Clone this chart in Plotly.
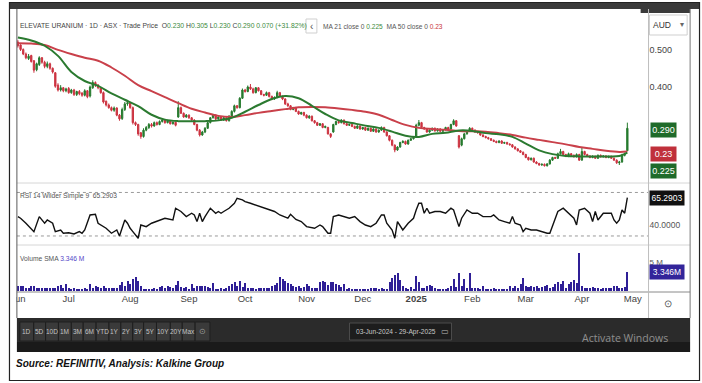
import plotly.graph_objects as go

W, H = 702, 383

# ---------------- data ----------------
month_idx = [0, 19, 42, 64, 85, 108, 129, 149, 170, 190, 211, 230]
month_lbl = ["Jun", "Jul", "Aug", "Sep", "Oct", "Nov", "Dec", "<b>2025</b>", "Feb", "Mar", "Apr", "May"]

opens = [
    0.520, 0.512, 0.500, 0.488, 0.476, 0.484, 0.470, 0.446, 0.460, 0.478,
    0.466, 0.455, 0.462, 0.450, 0.438, 0.405, 0.392, 0.398, 0.390, 0.396,
    0.385, 0.392, 0.380, 0.388, 0.384, 0.378, 0.390, 0.376, 0.398, 0.412,
    0.405, 0.398, 0.385, 0.362, 0.352, 0.345, 0.338, 0.344, 0.325, 0.316,
    0.340, 0.355, 0.358, 0.345, 0.305, 0.300, 0.278, 0.268, 0.285, 0.292,
    0.300, 0.296, 0.305, 0.300, 0.308, 0.312, 0.305, 0.310, 0.302, 0.306,
    0.320, 0.345, 0.330, 0.320, 0.325, 0.318, 0.312, 0.300, 0.285, 0.272,
    0.280, 0.290, 0.305, 0.318, 0.325, 0.315, 0.320, 0.312, 0.318, 0.310,
    0.322, 0.335, 0.350, 0.345, 0.370, 0.392, 0.388, 0.400, 0.395, 0.385,
    0.398, 0.390, 0.380, 0.378, 0.385, 0.375, 0.368, 0.372, 0.385, 0.375,
    0.368, 0.355, 0.350, 0.340, 0.345, 0.335, 0.328, 0.332, 0.325, 0.318,
    0.322, 0.310, 0.305, 0.298, 0.302, 0.292, 0.292, 0.275, 0.280, 0.300,
    0.308, 0.305, 0.312, 0.302, 0.298, 0.300, 0.295, 0.290, 0.296, 0.288,
    0.292, 0.285, 0.290, 0.282, 0.288, 0.280, 0.285, 0.292, 0.280, 0.270,
    0.258, 0.245, 0.232, 0.240, 0.252, 0.255, 0.248, 0.258, 0.262, 0.268,
    0.298, 0.305, 0.292, 0.288, 0.280, 0.285, 0.290, 0.283, 0.288, 0.282,
    0.286, 0.292, 0.288, 0.300, 0.310, 0.270, 0.245, 0.262, 0.275, 0.282,
    0.290, 0.285, 0.280, 0.278, 0.272, 0.268, 0.265, 0.262, 0.258, 0.255,
    0.252, 0.256, 0.250, 0.252, 0.248, 0.246, 0.240, 0.235, 0.230, 0.226,
    0.220, 0.212, 0.206, 0.210, 0.200, 0.196, 0.192, 0.194, 0.190, 0.195,
    0.205, 0.212, 0.210, 0.222, 0.228, 0.220, 0.215, 0.222, 0.218, 0.214,
    0.220, 0.205, 0.228, 0.220, 0.216, 0.212, 0.215, 0.210, 0.218, 0.214,
    0.216, 0.212, 0.215, 0.210, 0.205, 0.198, 0.200, 0.218, 0.230,
]
highs = [
    0.525, 0.514, 0.503, 0.492, 0.488, 0.486, 0.472, 0.465, 0.482, 0.480,
    0.470, 0.468, 0.465, 0.452, 0.440, 0.410, 0.405, 0.400, 0.398, 0.400,
    0.395, 0.395, 0.390, 0.392, 0.386, 0.394, 0.392, 0.404, 0.418, 0.415,
    0.408, 0.400, 0.388, 0.364, 0.356, 0.348, 0.348, 0.346, 0.328, 0.345,
    0.360, 0.362, 0.360, 0.348, 0.308, 0.302, 0.280, 0.290, 0.296, 0.304,
    0.304, 0.308, 0.308, 0.311, 0.316, 0.314, 0.313, 0.312, 0.308, 0.308,
    0.362, 0.348, 0.332, 0.328, 0.327, 0.320, 0.314, 0.302, 0.288, 0.283,
    0.293, 0.307, 0.320, 0.328, 0.327, 0.322, 0.322, 0.320, 0.320, 0.325,
    0.338, 0.353, 0.352, 0.373, 0.396, 0.395, 0.404, 0.408, 0.398, 0.400,
    0.400, 0.392, 0.382, 0.388, 0.387, 0.377, 0.375, 0.390, 0.387, 0.377,
    0.370, 0.358, 0.352, 0.347, 0.347, 0.337, 0.334, 0.334, 0.327, 0.325,
    0.324, 0.312, 0.307, 0.304, 0.304, 0.297, 0.294, 0.277, 0.302, 0.310,
    0.310, 0.314, 0.313, 0.304, 0.302, 0.302, 0.297, 0.298, 0.298, 0.294,
    0.294, 0.292, 0.292, 0.290, 0.290, 0.287, 0.295, 0.294, 0.282, 0.272,
    0.260, 0.247, 0.242, 0.254, 0.258, 0.257, 0.260, 0.264, 0.267, 0.302,
    0.312, 0.307, 0.294, 0.290, 0.287, 0.292, 0.292, 0.290, 0.290, 0.288,
    0.294, 0.294, 0.302, 0.314, 0.312, 0.272, 0.265, 0.278, 0.285, 0.293,
    0.292, 0.287, 0.282, 0.280, 0.274, 0.270, 0.267, 0.264, 0.260, 0.257,
    0.258, 0.258, 0.254, 0.254, 0.250, 0.248, 0.242, 0.237, 0.232, 0.228,
    0.222, 0.214, 0.212, 0.212, 0.202, 0.198, 0.196, 0.196, 0.197, 0.208,
    0.214, 0.214, 0.225, 0.235, 0.230, 0.222, 0.225, 0.224, 0.220, 0.223,
    0.222, 0.240, 0.230, 0.222, 0.218, 0.218, 0.217, 0.220, 0.220, 0.218,
    0.218, 0.217, 0.217, 0.212, 0.207, 0.203, 0.222, 0.225, 0.305,
]
lows = [
    0.505, 0.496, 0.485, 0.474, 0.472, 0.465, 0.438, 0.442, 0.456, 0.462,
    0.450, 0.450, 0.446, 0.436, 0.398, 0.388, 0.388, 0.386, 0.386, 0.382,
    0.382, 0.376, 0.376, 0.378, 0.374, 0.375, 0.370, 0.372, 0.395, 0.400,
    0.394, 0.382, 0.356, 0.348, 0.342, 0.335, 0.334, 0.322, 0.310, 0.312,
    0.336, 0.350, 0.342, 0.300, 0.296, 0.270, 0.262, 0.265, 0.282, 0.288,
    0.292, 0.294, 0.297, 0.298, 0.305, 0.302, 0.303, 0.300, 0.300, 0.295,
    0.318, 0.328, 0.318, 0.318, 0.315, 0.310, 0.298, 0.282, 0.268, 0.270,
    0.277, 0.288, 0.303, 0.316, 0.312, 0.313, 0.310, 0.310, 0.308, 0.308,
    0.320, 0.332, 0.342, 0.343, 0.368, 0.385, 0.386, 0.392, 0.382, 0.383,
    0.388, 0.378, 0.375, 0.376, 0.372, 0.365, 0.366, 0.370, 0.373, 0.365,
    0.352, 0.347, 0.338, 0.338, 0.333, 0.326, 0.326, 0.322, 0.316, 0.315,
    0.308, 0.302, 0.296, 0.296, 0.290, 0.290, 0.273, 0.264, 0.278, 0.298,
    0.302, 0.303, 0.300, 0.296, 0.296, 0.293, 0.288, 0.288, 0.286, 0.286,
    0.283, 0.283, 0.280, 0.280, 0.278, 0.278, 0.283, 0.278, 0.268, 0.255,
    0.242, 0.226, 0.230, 0.238, 0.250, 0.246, 0.246, 0.256, 0.260, 0.266,
    0.295, 0.290, 0.286, 0.278, 0.278, 0.283, 0.281, 0.281, 0.280, 0.280,
    0.284, 0.286, 0.286, 0.298, 0.294, 0.236, 0.242, 0.260, 0.273, 0.280,
    0.283, 0.278, 0.276, 0.270, 0.266, 0.263, 0.260, 0.256, 0.253, 0.250,
    0.250, 0.248, 0.248, 0.246, 0.244, 0.238, 0.233, 0.228, 0.224, 0.218,
    0.210, 0.204, 0.204, 0.198, 0.194, 0.190, 0.190, 0.188, 0.188, 0.193,
    0.203, 0.208, 0.208, 0.220, 0.218, 0.213, 0.213, 0.216, 0.212, 0.212,
    0.203, 0.204, 0.218, 0.214, 0.210, 0.210, 0.208, 0.208, 0.212, 0.212,
    0.210, 0.210, 0.208, 0.203, 0.195, 0.192, 0.198, 0.215, 0.230,
]
closes = [
    0.510, 0.500, 0.488, 0.478, 0.482, 0.468, 0.445, 0.462, 0.478, 0.466,
    0.455, 0.462, 0.450, 0.440, 0.402, 0.392, 0.398, 0.390, 0.395, 0.385,
    0.392, 0.380, 0.388, 0.382, 0.378, 0.390, 0.374, 0.400, 0.412, 0.405,
    0.398, 0.385, 0.360, 0.352, 0.345, 0.338, 0.344, 0.325, 0.315, 0.340,
    0.355, 0.358, 0.345, 0.305, 0.300, 0.275, 0.268, 0.285, 0.292, 0.300,
    0.296, 0.305, 0.300, 0.308, 0.312, 0.305, 0.310, 0.302, 0.306, 0.298,
    0.345, 0.330, 0.320, 0.325, 0.318, 0.312, 0.300, 0.285, 0.272, 0.280,
    0.290, 0.305, 0.318, 0.325, 0.315, 0.320, 0.312, 0.318, 0.310, 0.322,
    0.335, 0.350, 0.345, 0.370, 0.392, 0.388, 0.400, 0.395, 0.385, 0.398,
    0.390, 0.380, 0.378, 0.385, 0.375, 0.368, 0.372, 0.385, 0.375, 0.368,
    0.355, 0.350, 0.340, 0.345, 0.335, 0.328, 0.332, 0.325, 0.318, 0.322,
    0.310, 0.305, 0.298, 0.302, 0.292, 0.295, 0.275, 0.268, 0.300, 0.308,
    0.305, 0.312, 0.302, 0.298, 0.300, 0.295, 0.290, 0.296, 0.288, 0.292,
    0.285, 0.290, 0.282, 0.288, 0.280, 0.285, 0.292, 0.280, 0.270, 0.258,
    0.245, 0.232, 0.240, 0.252, 0.255, 0.248, 0.258, 0.262, 0.265, 0.298,
    0.305, 0.292, 0.288, 0.280, 0.285, 0.290, 0.283, 0.288, 0.282, 0.286,
    0.292, 0.288, 0.300, 0.310, 0.296, 0.240, 0.262, 0.275, 0.282, 0.290,
    0.285, 0.280, 0.278, 0.272, 0.268, 0.265, 0.262, 0.258, 0.255, 0.252,
    0.256, 0.250, 0.252, 0.248, 0.246, 0.240, 0.235, 0.230, 0.226, 0.220,
    0.212, 0.206, 0.210, 0.200, 0.196, 0.192, 0.194, 0.190, 0.195, 0.205,
    0.212, 0.210, 0.222, 0.228, 0.220, 0.215, 0.222, 0.218, 0.214, 0.220,
    0.205, 0.228, 0.220, 0.216, 0.212, 0.215, 0.210, 0.218, 0.214, 0.216,
    0.212, 0.215, 0.210, 0.205, 0.198, 0.200, 0.218, 0.220, 0.290,
]
volume_m = [
    0.9, 0.8, 0.9, 0.5, 0.5, 0.8, 0.9, 0.5, 0.6, 0.5,
    0.6, 0.5, 0.6, 0.5, 0.6, 0.9, 1.0, 0.6, 1.2, 0.5,
    0.4, 0.5, 0.3, 0.4, 0.3, 0.5, 0.4, 1.2, 0.6, 0.9,
    0.7, 0.6, 0.8, 0.5, 0.6, 0.5, 0.6, 0.5, 1.0, 1.5,
    0.9, 1.8, 1.3, 2.1, 2.4, 1.7, 0.9, 0.4, 0.3, 0.4,
    0.3, 0.5, 0.4, 0.7, 0.8, 0.6, 0.8, 0.7, 0.5, 1.0,
    1.8, 0.7, 0.5, 0.7, 0.4, 1.2, 0.5, 0.8, 0.9, 0.8,
    0.9, 0.7, 0.6, 1.4, 0.4, 0.3, 0.5, 0.4, 0.5, 0.9,
    1.2, 1.5, 0.9, 1.7, 0.7, 1.4, 0.5, 0.6, 0.5, 0.4,
    0.6, 0.5, 0.5, 0.6, 0.6, 0.8, 1.0, 1.4, 2.5, 2.1,
    1.8, 1.4, 1.2, 0.9, 0.7, 0.8, 0.6, 0.7, 1.2, 0.8,
    0.6, 0.5, 0.6, 1.5, 1.8, 1.5, 1.0, 1.5, 1.5, 1.2,
    1.1, 0.7, 1.2, 0.4, 0.5, 0.4, 0.3, 0.3, 0.4, 0.3,
    0.4, 0.3, 0.5, 0.6, 0.6, 0.4, 0.6, 0.3, 0.3, 1.5,
    2.3, 2.8, 3.2, 1.9, 0.8, 0.5, 0.4, 0.7, 0.3, 2.6,
    1.6, 0.6, 0.5, 0.8, 1.0, 0.9, 0.5, 0.4, 0.3, 0.4,
    0.4, 0.6, 0.8, 2.1, 0.7, 3.1, 0.8, 2.1, 0.6, 3.1,
    0.6, 0.6, 0.6, 0.3, 0.9, 0.4, 0.3, 0.4, 0.5, 0.4,
    0.3, 0.4, 0.4, 0.3, 0.8, 0.6, 0.9, 0.6, 1.3, 2.3,
    0.9, 0.7, 0.8, 0.7, 0.8, 0.6, 0.7, 0.8, 1.0, 0.6,
    0.7, 1.2, 1.6, 1.2, 1.7, 0.6, 1.2, 1.6, 1.9, 1.4,
    6.7, 0.9, 0.5, 0.5, 0.6, 0.7, 0.5, 0.6, 0.4, 0.5,
    0.6, 0.5, 0.6, 0.8, 0.9, 0.5, 0.5, 0.7, 3.346,
]

ma_idx = [0, 5, 10, 15, 20, 25, 30, 35, 40, 45, 50, 55, 60, 65, 70, 75, 80, 85, 90, 95,
          100, 105, 110, 115, 120, 125, 130, 135, 140, 145, 150, 155, 160, 165, 170, 175,
          180, 185, 190, 195, 200, 205, 210, 215, 220, 225, 228]
ma21 = [0.532, 0.524, 0.510, 0.483, 0.440, 0.416, 0.403, 0.383, 0.366, 0.349, 0.326, 0.313,
        0.309, 0.309, 0.309, 0.311, 0.318, 0.334, 0.352, 0.368, 0.376, 0.370, 0.350, 0.328,
        0.311, 0.304, 0.297, 0.291, 0.281, 0.270, 0.267, 0.275, 0.278, 0.284, 0.283, 0.277,
        0.274, 0.267, 0.249, 0.231, 0.221, 0.216, 0.215, 0.215, 0.215, 0.216, 0.225]
ma50 = [0.517, 0.516, 0.512, 0.499, 0.488, 0.478, 0.470, 0.452, 0.430, 0.405, 0.389, 0.373,
        0.357, 0.342, 0.332, 0.323, 0.320, 0.325, 0.331, 0.336, 0.341, 0.346, 0.347, 0.346,
        0.343, 0.339, 0.334, 0.326, 0.312, 0.299, 0.291, 0.288, 0.286, 0.283, 0.282, 0.281,
        0.277, 0.272, 0.265, 0.259, 0.253, 0.247, 0.240, 0.235, 0.230, 0.227, 0.228]

rsi_idx = [0, 1, 3, 6, 8, 10, 11, 13, 14, 16, 17, 19, 21, 23, 24, 25, 27, 29, 30, 33, 35, 37, 38,
           40, 41, 42, 43, 45, 46, 48, 50, 53, 55, 58, 59, 61, 63, 65, 66, 67, 68, 69, 70, 72, 74,
           75, 76, 77, 79, 81, 82, 84, 85, 87, 89, 91, 93, 96, 98, 101, 102, 104, 106, 108, 111,
           113, 114, 116, 117, 118, 120, 122, 124, 126, 128, 130, 132, 134, 136, 137, 138, 140,
           141, 142, 144, 146, 148, 149, 150, 151, 152, 153, 154, 156, 158, 160, 162, 163, 165,
           166, 168, 170, 172, 174, 175, 177, 178, 180, 182, 184, 185, 186, 188, 189, 190, 192,
           194, 196, 198, 199, 200, 202, 204, 206, 208, 209, 210, 212, 214, 215, 216, 217, 219,
           222, 223, 224, 225, 226, 227, 228]
rsi_val = [47.8, 46.3, 41.7, 34.0, 47.8, 41.7, 44.7, 41.7, 34.0, 35.5, 32.5, 33.0, 31.8, 34.0, 32.5,
           35.5, 49.3, 49.9, 41.7, 37.1, 32.5, 35.5, 30.0, 44.7, 41.7, 37.1, 34.0, 27.9, 40.1, 38.6,
           41.7, 44.7, 46.3, 44.7, 55.5, 52.5, 47.8, 50.9, 49.3, 43.2, 50.9, 43.2, 47.8, 55.5, 50.9,
           52.5, 50.9, 52.5, 55.5, 60.1, 64.7, 63.2, 61.6, 60.1, 58.5, 57.0, 55.5, 52.5, 49.3, 46.3,
           49.9, 45.2, 43.2, 38.6, 37.1, 40.1, 38.6, 32.5, 32.5, 47.8, 49.3, 47.8, 46.3, 47.8, 43.2,
           40.1, 38.6, 41.7, 49.3, 49.3, 41.7, 35.5, 27.9, 43.2, 35.5, 41.7, 46.3, 53.9, 60.1, 60.1,
           50.9, 55.5, 50.9, 52.5, 52.5, 50.9, 55.5, 53.9, 38.6, 46.3, 53.9, 50.9, 50.9, 47.8, 47.8,
           47.8, 49.3, 44.7, 43.2, 41.7, 47.8, 41.7, 40.1, 34.0, 37.1, 35.5, 35.5, 34.0, 32.5, 32.5,
           38.6, 52.5, 55.5, 50.9, 46.3, 40.1, 53.9, 55.5, 50.9, 43.2, 52.5, 44.7, 50.9, 50.9, 44.7,
           41.7, 44.7, 53.9, 50.9, 65.3]

button_lbl = ["1D", "5D", "10D", "1M", "3M", "6M", "YTD", "1Y", "2Y", "3Y", "5Y", "10Y", "20Y", "Max"]

# ---------------- styling helpers ----------------
GREEN = "#267a2e"
RED = "#cc3340"
VOL = "#2f1f96"
SANS = "Liberation Sans, Arial, sans-serif"


def px(x):
    return x / W


def py(y):
    return 1 - y / H


xidx = list(range(len(closes)))

fig = go.Figure()
fig.add_trace(go.Candlestick(
    x=xidx, open=opens, high=highs, low=lows, close=closes,
    increasing=dict(line=dict(color=GREEN, width=1), fillcolor=GREEN),
    decreasing=dict(line=dict(color=RED, width=1), fillcolor=RED),
    whiskerwidth=0, xaxis="x", yaxis="y", showlegend=False, hoverinfo="skip"))
fig.add_trace(go.Scatter(x=ma_idx, y=ma50, mode="lines", line=dict(color="#c9404a", width=2, shape="spline"),
                         xaxis="x", yaxis="y", showlegend=False, hoverinfo="skip"))
fig.add_trace(go.Scatter(x=ma_idx, y=ma21, mode="lines", line=dict(color="#2b7a30", width=2, shape="spline"),
                         xaxis="x", yaxis="y", showlegend=False, hoverinfo="skip"))
fig.add_trace(go.Scatter(x=rsi_idx, y=rsi_val, mode="lines", line=dict(color="#111111", width=1.4),
                         xaxis="x", yaxis="y2", showlegend=False, hoverinfo="skip"))
fig.add_trace(go.Bar(x=xidx, y=volume_m, marker=dict(color=VOL, line=dict(width=0)),
                     width=0.75, xaxis="x", yaxis="y3", showlegend=False, hoverinfo="skip"))

x_left, x_right = 10, 648
ppu = 2.7
fig.update_layout(
    width=W, height=H, margin=dict(l=0, r=0, t=0, b=0),
    paper_bgcolor="white", plot_bgcolor="rgba(0,0,0,0)",
    font=dict(family=SANS, size=9, color="#444"),
    bargap=0,
    xaxis=dict(domain=[px(x_left), px(x_right)], range=[(x_left - 11) / ppu, (x_right - 11) / ppu],
               anchor="y3", showgrid=False, zeroline=False, showline=False,
               tickmode="array", tickvals=month_idx, ticktext=month_lbl, ticks="",
               tickfont=dict(size=9.5, color="#444", family=SANS), rangeslider=dict(visible=False)),
    yaxis=dict(domain=[py(183), py(12)], range=[0.144, 0.6], side="right", anchor="x",
               showgrid=False, zeroline=False, tickmode="array", tickvals=[0.4, 0.5],
               ticktext=["0.400", "0.500"], ticks="", tickfont=dict(size=9, color="#444")),
    yaxis2=dict(domain=[py(245), py(183)], range=[21.7, 78.7], side="right", anchor="x",
                showgrid=False, zeroline=False, tickmode="array", tickvals=[40],
                ticktext=["40.0000"], ticks="", tickfont=dict(size=8.5, color="#555")),
    yaxis3=dict(domain=[py(291), py(246)], range=[0, 7.92], side="right", anchor="x",
                showgrid=False, zeroline=False, tickmode="array", tickvals=[5],
                ticktext=["5 M"], ticks="", tickfont=dict(size=8, color="#555")),
)

shapes = []


def rect(x0, y0, x1, y1, fill=None, line=None, lw=1, layer="above"):
    shapes.append(dict(type="rect", xref="paper", yref="paper", x0=px(x0), x1=px(x1), y0=py(y1), y1=py(y0),
                       fillcolor=fill if fill else "rgba(0,0,0,0)",
                       line=dict(color=line if line else "rgba(0,0,0,0)", width=lw if line else 0),
                       layer=layer))


def hline(y, x0, x1, color, width=1):
    shapes.append(dict(type="line", xref="paper", yref="paper", x0=px(x0), x1=px(x1), y0=py(y), y1=py(y),
                       line=dict(color=color, width=width), layer="above"))


def vline(x, y0, y1, color, width=1):
    shapes.append(dict(type="line", xref="paper", yref="paper", x0=px(x), x1=px(x), y0=py(y0), y1=py(y1),
                       line=dict(color=color, width=width), layer="above"))


# cover left of chart (cuts the "J" of Jun like the reference)
rect(0, 292, 9.5, 317, fill="white")
# top dark strip
rect(3, 3, 699, 9, fill="#3a3a3a")
rect(640, 3, 690, 13, fill="#3a3a3a")
# RSI 70 / 30 reference lines
for lvl in (70, 30):
    shapes.append(dict(type="line", xref="paper", yref="y2", x0=px(x_left), x1=px(x_right), y0=lvl, y1=lvl,
                       line=dict(color="#9a9a9a", width=1, dash="dot"), layer="below"))
# panel separators
hline(183, 10, 690, "#d6d6d6")
hline(245, 10, 690, "#d6d6d6")
hline(292, 10, 690, "#8a8a8a")
vline(648, 9, 318, "#bdbdbd")
vline(10, 9, 318, "#5a5a5a")
vline(690, 9, 318, "#7a7a7a")
# AUD selector
rect(649, 15, 687, 35, fill="white", line="#cfcfcf")
# "<" button in header
rect(302, 19, 313, 33, fill="white", line="#cfcfcf")
# bottom toolbar
rect(10, 318, 690, 342, fill="#2b2b2b")
rect(10, 342, 690, 352, fill="#1a1a1a")
edges = [13, 27, 39, 52, 65, 77, 90, 103, 115, 127, 138, 151, 165, 177, 190]
for a, b in zip(edges[:-1], edges[1:]):
    rect(a, 322, b, 341, fill="#3a3a3a", line="#1f1f1f")
rect(190, 322, 205, 341, fill="#3a3a3a", line="#1f1f1f")
rect(346, 323, 449, 340, fill="#1d1d1d", line="#4d4d4d")
# outer frame
rect(2.5, 2.5, 699.5, 380.5, line="#222222", lw=1.2)
fig.update_layout(shapes=shapes)

ann = []


def text(x, y, s, size=9, color="#444", anchor="left", family=SANS, bg=None, w=None, h=None):
    d = dict(xref="paper", yref="paper", x=px(x), y=py(y), text=s, showarrow=False,
             xanchor=anchor, yanchor="middle", font=dict(size=size, color=color, family=family),
             borderpad=0)
    if bg:
        d.update(bgcolor=bg, borderpad=1)
    if w:
        d.update(width=w)
    if h:
        d.update(height=h)
    ann.append(d)


g = "#3d8b3d"
hdr = ("ELEVATE URANIUM · 1D · ASX · Trade Price&nbsp;&nbsp;"
       f"O<span style='color:{g}'>0.230</span> H<span style='color:{g}'>0.305</span> "
       f"L<span style='color:{g}'>0.230</span> C<span style='color:{g}'>0.290</span> "
       f"<span style='color:{g}'>0.070 (+31.82%)</span>")
text(12, 26, hdr, size=6.8, color="#444")
text(307.5, 26, "‹", size=10, color="#555", anchor="center")
text(318, 26, f"MA 21 close 0 <span style='color:{g}'>0.225</span>&nbsp;&nbsp;"
              f"MA 50 close 0 <span style='color:#c8343c'>0.23</span>", size=6.6, color="#555")
text(652, 25, "AUD", size=8.5, color="#333")
text(682, 25, "▾", size=8, color="#666", anchor="center")
text(12, 196, "RSI 14 Wilder Simple 9&nbsp;&nbsp;65.2903", size=6.7, color="#555")
text(12, 258, "Volume SMA <span style='color:#5548c8'>3.346 M</span>", size=6.7, color="#555")
# value badges
text(649, 130, "0.290", size=9, color="white", bg="#1f6b2a", w=23, h=12)
text(649, 154, "0.23", size=9, color="white", bg="#c0303b", w=23, h=12)
text(649, 171, "0.225", size=9, color="white", bg="#1f6b2a", w=23, h=12)
text(648, 198, "65.2903", size=8.5, color="white", bg="#111111", w=32, h=12)
text(648, 272, "3.346M", size=8.5, color="white", bg="#33259a", w=32, h=12)
text(668, 303, "⊙", size=10, color="#555", anchor="center")
# toolbar labels
centers = [(a + b) / 2 for a, b in zip(edges[:-1], edges[1:])]
for c, lbl in zip(centers, button_lbl):
    text(c, 331.5, lbl, size=6.5, color="#c4c4c4", anchor="center")
text(197.5, 331.5, "⊙", size=8, color="#9a9a9a", anchor="center")
text(351, 331.5, "03-Jun-2024 - 29-Apr-2025", size=6.6, color="#c8c8c8")
text(442, 331.5, "▭", size=8, color="#bbbbbb", anchor="center")
text(580, 338, "Activate Windows", size=10.5, color="#8f8f8f", family="Open Sans, Noto Sans, sans-serif")
text(8, 363, "<b><i>Source: REFINITIV, Analysis: Kalkine Group</i></b>", size=10, color="#111",
     family=SANS)
fig.update_layout(annotations=ann)

fig.write_html("out.html", config={"displayModeBar": False},
               post_script="document.body.style.margin='0';document.body.style.overflow='hidden';")
